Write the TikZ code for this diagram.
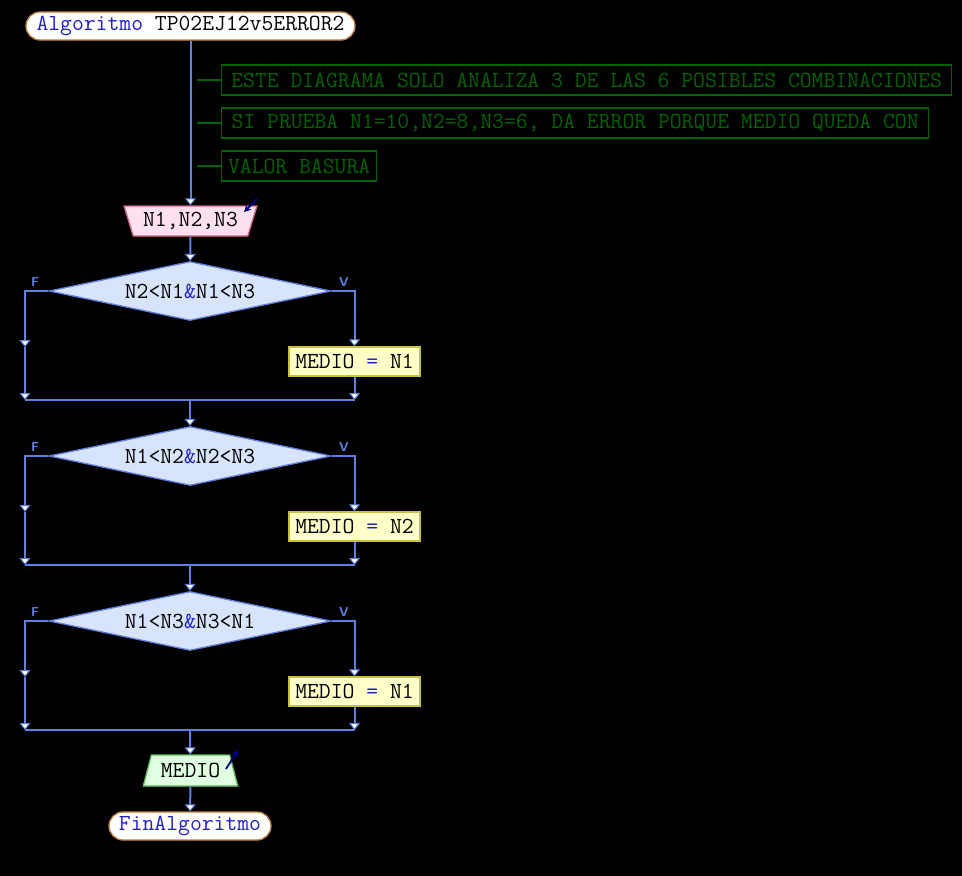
\documentclass[tikz,border=0pt]{standalone}
\usetikzlibrary{shapes.geometric,arrows.meta}
\definecolor{flowc}{HTML}{6080E0}
\definecolor{decfill}{HTML}{D8E4FC}
\definecolor{actfill}{HTML}{FFFFC8}
\definecolor{actdraw}{HTML}{C8C040}
\definecolor{infill}{HTML}{FFE0F0}
\definecolor{indraw}{HTML}{D06080}
\definecolor{outfill}{HTML}{E0FFE0}
\definecolor{outdraw}{HTML}{60C060}
\definecolor{termdraw}{HTML}{C08040}
\definecolor{cmtgreen}{HTML}{006400}
\definecolor{kwblue}{HTML}{2020C8}
\definecolor{iconblue}{HTML}{000090}
\newcommand\opc[1]{\textcolor{kwblue}{#1}}
\begin{document}
\begin{tikzpicture}[x=1pt,y=-1pt,
  font=\fontsize{23}{25}\selectfont\ttfamily,
  flowline/.style={draw=flowc,line width=2pt},
  flowarr/.style={flowline,-{Triangle[width=11pt,length=7pt,fill=white,line width=1pt]}},
  cmtline/.style={draw=cmtgreen,line width=2pt},
  termbox/.style={draw=termdraw,fill=white,line width=1.3pt,rounded corners=14pt,minimum height=28pt,inner sep=0pt},
  cmtbox/.style={draw=cmtgreen,line width=1.3pt,text=cmtgreen,minimum height=30pt,inner sep=0pt,anchor=west},
  inbox/.style={trapezium,shape border rotate=180,trapezium left angle=66.6,trapezium right angle=66.6,trapezium stretches=true,minimum width=133pt,minimum height=30pt,inner sep=0pt,draw=indraw,fill=infill,line width=1.3pt},
  outbox/.style={trapezium,trapezium left angle=67.2,trapezium right angle=67.2,trapezium stretches=true,minimum width=95pt,minimum height=31pt,inner sep=0pt,draw=outdraw,fill=outfill,line width=1.3pt},
  decbox/.style={diamond,aspect=4.8,minimum width=282pt,minimum height=59pt,inner sep=0pt,draw=flowc,fill=decfill,line width=1.3pt},
  actbox/.style={draw=actdraw,fill=actfill,line width=1.3pt,minimum width=131pt,minimum height=29pt,inner sep=0pt},
  brlabel/.style={text=flowc,font=\fontsize{13}{13}\selectfont\sffamily\bfseries},
  iconarr/.style={draw=iconblue,line width=1.8pt,-{Stealth[length=7pt,width=7pt]}}
]
\fill[black] (0,0) rectangle (962,876);
\useasboundingbox (0,0) rectangle (962,876);

% start
\node[termbox,minimum width=329pt] (start) at (190.5,26) {\opc{Algoritmo} TP02EJ12v5ERROR2};

% comments
\node[cmtbox,minimum width=730pt] (c1) at (221,80) {ESTE DIAGRAMA SOLO ANALIZA 3 DE LAS 6 POSIBLES COMBINACIONES};
\node[cmtbox,minimum width=707pt] (c2) at (221,123) {SI PRUEBA N1=10,N2=8,N3=6, DA ERROR PORQUE MEDIO QUEDA CON};
\node[cmtbox,minimum width=155pt] (c3) at (221,166) {VALOR BASURA};
\coordinate (k1) at (197,80);
\coordinate (k2) at (197,123);
\coordinate (k3) at (197,166);
\draw[cmtline] (k1) -- (c1.west);
\draw[cmtline] (k2) -- (c2.west);
\draw[cmtline] (k3) -- (c3.west);

% input
\node[inbox] (in) at (190.5,221) {N1,N2,N3};
\draw[iconarr] ([shift={(66.5,-22)}]in.center) -- ++(-13,13);
\draw[flowarr] (start) -- (in);

% decision blocks
\foreach \i/\cy/\t/\a in {1/291/{N2<N1\opc{\&}N1<N3}/N1,
                          2/456/{N1<N2\opc{\&}N2<N3}/N2,
                          3/621/{N1<N3\opc{\&}N3<N1}/N1}{
  \node[decbox] (d\i) at (190,\cy) {\t};
  \node[brlabel] at (35,{\cy-9}) {F};
  \node[brlabel] at (344,{\cy-9}) {V};
  \node[actbox] (a\i) at (354.5,{\cy+70.5}) {MEDIO \opc{=} \a};
  \coordinate (fl\i) at (25,\cy);
  \coordinate (fm\i) at (25,{\cy+56});
  \coordinate (fb\i) at (25,{\cy+109});
  \coordinate (vt\i) at (354.5,\cy);
  \coordinate (vb\i) at (354.5,{\cy+109});
  \coordinate (m\i) at (190,{\cy+109});
  \draw[flowarr] (d\i.west) -- (fl\i) -- (fm\i);
  \draw[flowarr] (fm\i) -- (fb\i);
  \draw[flowarr] (d\i.east) -- (vt\i) -- (a\i.north);
  \draw[flowarr] (a\i.south) -- (vb\i);
  \draw[flowline] (fb\i) -- (vb\i);
}
\draw[flowarr] (in) -- (d1);
\draw[flowarr] (m1) -- (d2);
\draw[flowarr] (m2) -- (d3);

% output
\node[outbox] (out) at (190.5,770.5) {MEDIO};
\draw[iconarr] ([shift={(35.5,-1.5)}]out.center) -- ++(12,-19);
\draw[flowarr] (m3) -- (out);

% end
\node[termbox,minimum width=162pt] (end) at (190,826) {\opc{FinAlgoritmo}};
\draw[flowarr] (out) -- (end);
\end{tikzpicture}
\end{document}
